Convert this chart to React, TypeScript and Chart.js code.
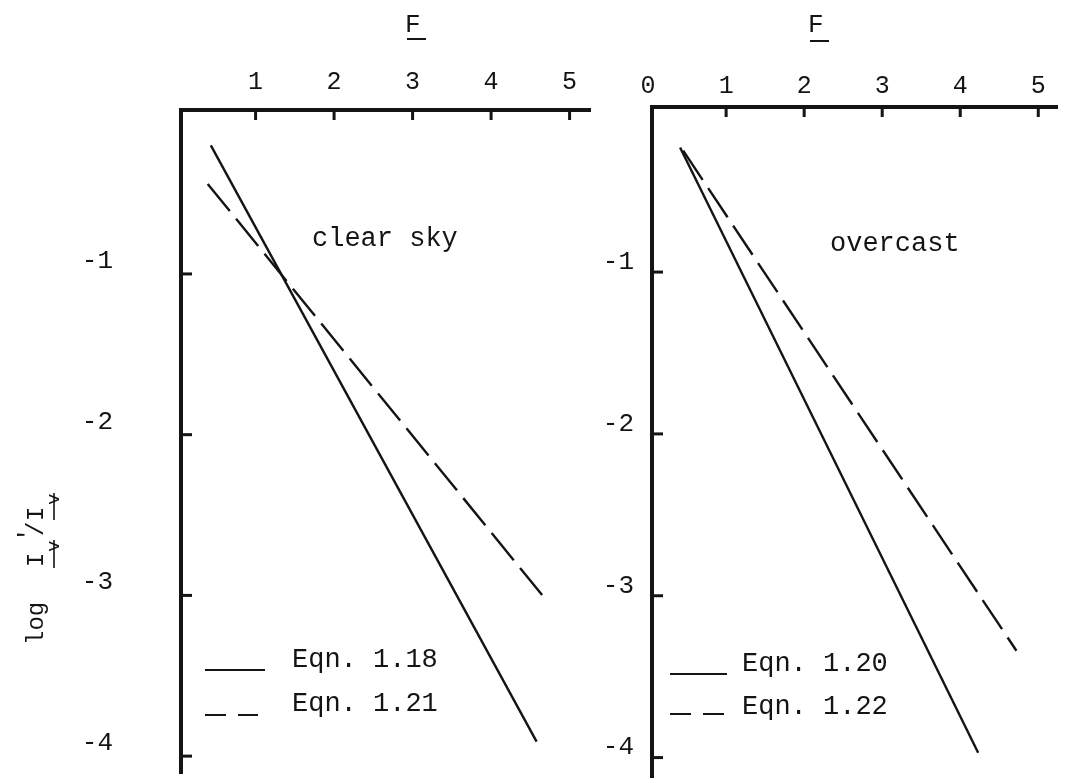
import React, { useEffect, useRef } from "react";
import { Chart, registerables } from "chart.js";

Chart.register(...registerables);

// ---- data ----
// F axis ticks
const CLEAR_F_TICKS = [1, 2, 3, 4, 5];
const CLEAR_F_LABELS = ["1", "2", "3", "4", "5"];
const OVERCAST_F_TICKS = [0, 1, 2, 3, 4, 5];
const OVERCAST_F_LABELS = ["0", "1", "2", "3", "4", "5"];
// log I'v/Iv axis ticks
const LOG_TICKS = [-1, -2, -3, -4];
const LOG_LABELS = ["-1", "-2", "-3", "-4"];

// clear sky: Eqn. 1.18 (solid) and Eqn. 1.21 (dashed)
const CLEAR_118_F = [0.43, 4.58];
const CLEAR_118_LOG = [-0.2, -3.91];
const CLEAR_121_F = [0.39, 4.72];
const CLEAR_121_LOG = [-0.44, -3.04];

// overcast: Eqn. 1.20 (solid) and Eqn. 1.22 (dashed)
const OVERCAST_120_F = [0.41, 4.23];
const OVERCAST_120_LOG = [-0.23, -3.97];
const OVERCAST_122_F = [0.45, 4.72];
const OVERCAST_122_LOG = [-0.25, -3.34];

const CLEAR_SERIES = ["Eqn. 1.18", "Eqn. 1.21"];
const OVERCAST_SERIES = ["Eqn. 1.20", "Eqn. 1.22"];

// ---- styling ----
const INK = "#141414";
const FONT = '"Liberation Mono", "DejaVu Sans Mono", monospace';
const LINE_DASH = [35, 10];
const KEY_DASH = [21, 12];

const toPoints = (xs: number[], ys: number[]) => xs.map((x, i) => ({ x, y: ys[i] }));

type PanelSpec = {
  canvasLeft: number;
  canvasWidth: number;
  area: { left: number; top: number; right: number; bottom: number };
  xMin: number;
  xMax: number;
  yMin: number;
  yMax: number;
  xTicks: number[];
  xLabels: string[];
  xLabelPadding: number;
  yLabelPadding: number;
  yLabelOffset: number;
  series: string[];
  solid: { x: number[]; y: number[] };
  dashed: { x: number[]; y: number[] };
  caption: { text: string; x: number; y: number };
  fTitle: { x: number; y: number; underline: number };
  key: {
    lineX0: number;
    lineX1: number;
    dashX1: number;
    solidY: number;
    dashY: number;
    textX: number;
    text1Y: number;
    text2Y: number;
  };
  yTitle: boolean;
};

const PANELS: PanelSpec[] = [
  {
    canvasLeft: 0,
    canvasWidth: 596,
    area: { left: 181, top: 110, right: 590, bottom: 773 },
    xMin: 0.05,
    xMax: 5.26,
    yMin: -4.105,
    yMax: 0.02,
    xTicks: CLEAR_F_TICKS,
    xLabels: CLEAR_F_LABELS,
    xLabelPadding: 13,
    yLabelPadding: 68,
    yLabelOffset: -13,
    series: CLEAR_SERIES,
    solid: { x: CLEAR_118_F, y: CLEAR_118_LOG },
    dashed: { x: CLEAR_121_F, y: CLEAR_121_LOG },
    caption: { text: "clear sky", x: 312, y: 246 },
    fTitle: { x: 407, y: 32, underline: 39 },
    key: { lineX0: 205, lineX1: 265, dashX1: 258, solidY: 670, dashY: 715, textX: 292, text1Y: 667, text2Y: 711 },
    yTitle: true,
  },
  {
    canvasLeft: 596,
    canvasWidth: 470,
    area: { left: 652, top: 107, right: 1057, bottom: 777 },
    xMin: 0.05,
    xMax: 5.24,
    yMin: -4.12,
    yMax: 0.02,
    xTicks: OVERCAST_F_TICKS,
    xLabels: OVERCAST_F_LABELS,
    xLabelPadding: 6,
    yLabelPadding: 18,
    yLabelOffset: -10,
    series: OVERCAST_SERIES,
    solid: { x: OVERCAST_120_F, y: OVERCAST_120_LOG },
    dashed: { x: OVERCAST_122_F, y: OVERCAST_122_LOG },
    caption: { text: "overcast", x: 830, y: 251 },
    fTitle: { x: 810, y: 32, underline: 41 },
    key: { lineX0: 670, lineX1: 727, dashX1: 728, solidY: 674, dashY: 714, textX: 742, text1Y: 671, text2Y: 714 },
    yTitle: false,
  },
];

function strokeLine(ctx: CanvasRenderingContext2D, x0: number, y0: number, x1: number, y1: number) {
  ctx.beginPath();
  ctx.moveTo(x0, y0);
  ctx.lineTo(x1, y1);
  ctx.stroke();
}

// Inward tick marks, captions, key, axis titles
function makeDecor(spec: PanelSpec) {
  const ox = spec.canvasLeft;
  return {
    id: "decor",
    afterDraw(chart: any) {
      const ctx: CanvasRenderingContext2D = chart.ctx;
      const { left, top } = chart.chartArea;
      const xs = chart.scales.x;
      const ys = chart.scales.y;
      ctx.save();
      ctx.strokeStyle = INK;
      ctx.fillStyle = INK;
      ctx.lineCap = "butt";

      // tick marks pointing into the plot
      ctx.lineWidth = 3;
      xs.ticks.forEach((t: any) => {
        if (t.value <= xs.min) return;
        const px = xs.getPixelForValue(t.value);
        strokeLine(ctx, px, top, px, top + 10);
      });
      ys.ticks.forEach((t: any) => {
        const py = ys.getPixelForValue(t.value);
        strokeLine(ctx, left, py, left + 11, py);
      });

      // F title, underlined
      ctx.font = `26px ${FONT}`;
      ctx.textBaseline = "alphabetic";
      ctx.textAlign = "left";
      const fx = spec.fTitle.x - ox;
      ctx.fillText("F", fx - 2, spec.fTitle.y);
      ctx.lineWidth = 2;
      strokeLine(ctx, fx, spec.fTitle.underline, fx + 19, spec.fTitle.underline);

      // caption
      ctx.font = `27px ${FONT}`;
      ctx.fillText(spec.caption.text, spec.caption.x - ox, spec.caption.y);

      // key
      const k = spec.key;
      const ds = chart.data.datasets;
      ctx.lineWidth = 2.2;
      ctx.setLineDash(ds[0].borderDash || []);
      strokeLine(ctx, k.lineX0 - ox, k.solidY, k.lineX1 - ox, k.solidY);
      ctx.setLineDash(KEY_DASH);
      strokeLine(ctx, k.lineX0 - ox, k.dashY, k.dashX1 - ox, k.dashY);
      ctx.setLineDash([]);
      ctx.font = `27px ${FONT}`;
      ctx.fillText(ds[0].label, k.textX - ox, k.text1Y);
      ctx.fillText(ds[1].label, k.textX - ox, k.text2Y);

      // vertical title: log I'v / Iv
      if (spec.yTitle) {
        ctx.save();
        ctx.translate(43, 645);
        ctx.rotate(-Math.PI / 2);
        ctx.font = `24px ${FONT}`;
        ctx.fillText("log", 0, 0);
        ctx.fillText("I", 78, 0);
        ctx.fillText("/", 109, 0);
        ctx.fillText("I", 124, 0);
        ctx.font = `19px ${FONT}`;
        ctx.fillText("v", 93, 16);
        ctx.fillText("v", 140, 16);
        ctx.font = `24px ${FONT}`;
        ctx.fillText("'", 103, -8);
        ctx.lineWidth = 1.6;
        strokeLine(ctx, 77, 11, 105, 11);
        strokeLine(ctx, 125, 11, 152, 11);
        ctx.restore();
      }
      ctx.restore();
    },
  };
}

// keep the plot area exactly where the layout puts it
const clearScalePadding = (s: any) => {
  s.paddingTop = 0;
  s.paddingBottom = 0;
  s.paddingLeft = 0;
  s.paddingRight = 0;
};

function buildConfig(spec: PanelSpec): any {
  const a = spec.area;
  const w = spec.canvasWidth;
  return {
    type: "line",
    data: {
      datasets: [
        {
          label: spec.series[0],
          data: toPoints(spec.solid.x, spec.solid.y),
          borderColor: INK,
          borderWidth: 2.4,
          borderDash: [],
          pointRadius: 0,
          tension: 0,
          fill: false,
        },
        {
          label: spec.series[1],
          data: toPoints(spec.dashed.x, spec.dashed.y),
          borderColor: INK,
          borderWidth: 2.4,
          borderDash: LINE_DASH,
          pointRadius: 0,
          tension: 0,
          fill: false,
        },
      ],
    },
    options: {
      responsive: false,
      animation: false,
      devicePixelRatio: 1,
      layout: {
        padding: { left: 0, top: 0, right: w - (a.right - spec.canvasLeft), bottom: 780 - a.bottom },
      },
      plugins: {
        legend: { display: false },
        tooltip: { enabled: false },
        title: { display: false },
      },
      scales: {
        x: {
          type: "linear",
          position: "top",
          min: spec.xMin,
          max: spec.xMax,
          afterBuildTicks: (s: any) => {
            s.ticks = spec.xTicks.map((v) => ({ value: v }));
          },
          afterFit: (s: any) => {
            s.height = a.top;
            clearScalePadding(s);
          },
          grid: { display: false, drawTicks: false, drawOnChartArea: false },
          border: { display: true, color: INK, width: 4 },
          ticks: {
            autoSkip: false,
            maxRotation: 0,
            color: INK,
            padding: spec.xLabelPadding,
            font: { family: FONT, size: 25 },
            callback: (_v: any, i: number) => spec.xLabels[i],
          },
        },
        y: {
          type: "linear",
          position: "left",
          min: spec.yMin,
          max: spec.yMax,
          afterBuildTicks: (s: any) => {
            s.ticks = LOG_TICKS.map((v) => ({ value: v }));
          },
          afterFit: (s: any) => {
            s.width = a.left - spec.canvasLeft;
            clearScalePadding(s);
          },
          grid: { display: false, drawTicks: false, drawOnChartArea: false },
          border: { display: true, color: INK, width: 4 },
          ticks: {
            autoSkip: false,
            color: INK,
            padding: spec.yLabelPadding,
            labelOffset: spec.yLabelOffset,
            font: { family: FONT, size: 26 },
            callback: (_v: any, i: number) => LOG_LABELS[i],
          },
        },
      },
    },
    plugins: [makeDecor(spec)],
  };
}

function Panel({ spec }: { spec: PanelSpec }) {
  const ref = useRef<HTMLCanvasElement>(null);
  useEffect(() => {
    const chart = new Chart(ref.current as HTMLCanvasElement, buildConfig(spec));
    return () => chart.destroy();
  }, [spec]);
  return (
    <canvas
      ref={ref}
      width={spec.canvasWidth}
      height={780}
      style={{ position: "absolute", left: spec.canvasLeft, top: 0, width: spec.canvasWidth, height: 780 }}
    />
  );
}

export default function App() {
  return (
    <div style={{ position: "absolute", left: 0, top: 0, width: 1066, height: 780, background: "#ffffff", overflow: "hidden" }}>
      {PANELS.map((p, i) => (
        <Panel key={i} spec={p} />
      ))}
    </div>
  );
}
